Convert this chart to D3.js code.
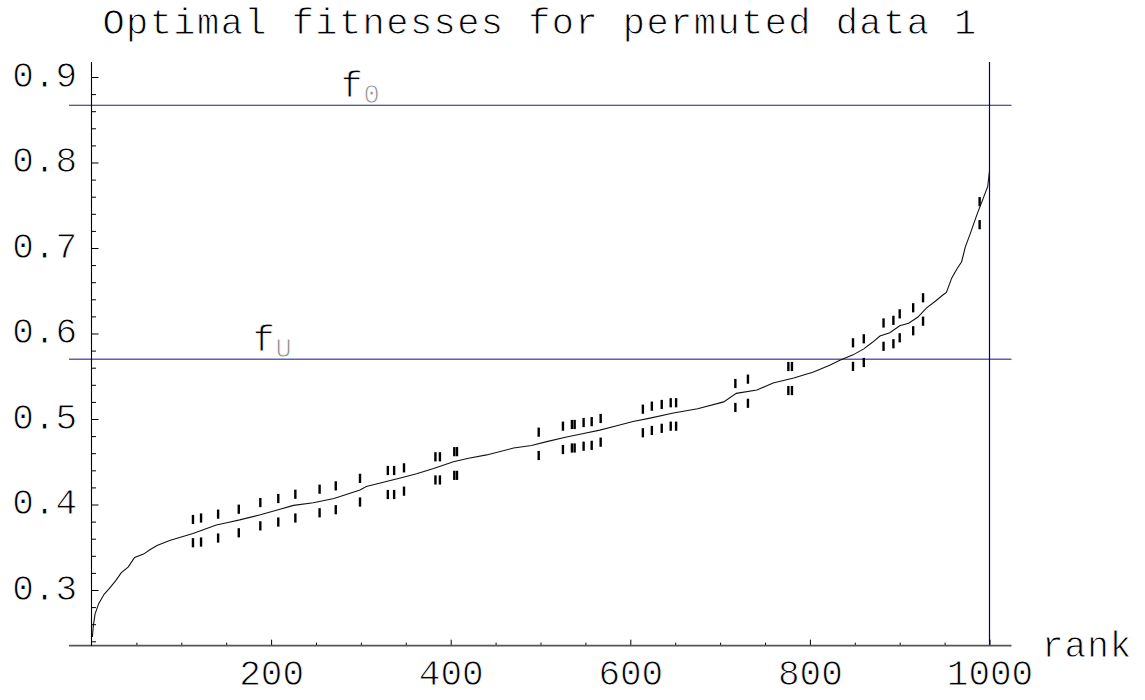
<!DOCTYPE html>
<html>
<head>
<meta charset="utf-8">
<script src="https://cdn.jsdelivr.net/npm/d3@7/dist/d3.min.js"></script>
<style>
  html, body { margin: 0; padding: 0; background: #fff; }
  svg { display: block; }
  svg text { stroke: #fff; stroke-width: 0.9px; paint-order: normal; }
</style>
</head>
<body>
<script>
// ---------- data ----------
const title = "Optimal fitnesses for permuted data 1";
const xLabel = "rank";

const curveRank = [1,2,4,8,14,20,27,33,41,48,58,65,73,87,100,113,126,139,152,165,188,205,225,247,270,299,306,325,344,362,381,403,420,440,470,490,507,529,548,566,585,603,622,648,675,704,718,741,759,782,804,822,834,848,860,870,878,889,900,910,920,930,940,948,952,958,964,969,973,979,986,993,998,1000];
const curveValue = [0.245,0.258,0.272,0.284,0.295,0.302,0.311,0.320,0.327,0.338,0.342,0.347,0.352,0.358,0.362,0.366,0.371,0.376,0.379,0.382,0.388,0.393,0.399,0.402,0.407,0.417,0.421,0.426,0.431,0.436,0.442,0.450,0.454,0.458,0.466,0.469,0.4735,0.479,0.483,0.487,0.492,0.497,0.501,0.507,0.512,0.520,0.530,0.534,0.542,0.548,0.555,0.563,0.569,0.575,0.582,0.590,0.597,0.601,0.609,0.612,0.619,0.630,0.638,0.645,0.648,0.665,0.676,0.684,0.701,0.718,0.739,0.758,0.772,0.790];

const barRank  = [113,122,141,164,188,208,227,254,272,299,330,337,348,383,388,404,407,498,525,535,538,548,557,567,614,624,635,645,651,717,731,776,780,848,860,882,893,900,915,926,989];
const barUpper = [0.3825,0.3842,0.3887,0.3945,0.4023,0.407,0.412,0.4179,0.4218,0.4306,0.4398,0.4398,0.4429,0.4558,0.4558,0.4618,0.4618,0.4846,0.4916,0.4936,0.4936,0.4959,0.4969,0.5006,0.5115,0.515,0.517,0.519,0.519,0.5415,0.5466,0.5614,0.5614,0.5891,0.5938,0.6123,0.6154,0.6230,0.6301,0.6418,0.7542];
const barLower = [0.3553,0.3561,0.3608,0.3669,0.375,0.3795,0.3842,0.3903,0.3939,0.4029,0.4117,0.4117,0.4156,0.4287,0.4287,0.4341,0.4341,0.4573,0.4643,0.4661,0.4661,0.4682,0.4692,0.4729,0.4839,0.4866,0.4891,0.4916,0.4916,0.5135,0.5184,0.5333,0.5333,0.5616,0.5661,0.585,0.588,0.595,0.6032,0.6144,0.7273];

const refLineName  = ["0", "U"];
const refLineValue = [0.867, 0.570];
const refLabelRank = [280, 182];
const rankLimit = 1000;

const xTickLabels = [200, 400, 600, 800, 1000];
const xMinorTicks = [50,100,150,250,300,350,450,500,550,650,700,750,850,900,950];
const yTickLabels = [0.3, 0.4, 0.5, 0.6, 0.7, 0.8, 0.9];
const yMinorTicks = [0.24,0.26,0.28,0.32,0.34,0.36,0.38,0.42,0.44,0.46,0.48,0.52,0.54,0.56,0.58,0.62,0.64,0.66,0.68,0.72,0.74,0.76,0.78,0.82,0.84,0.86,0.88];

// plot range
const xRange = [-25, 1024.5];
const yRange = [0.2349, 0.9175];

// ---------- layout ----------
const W = 1145, H = 700;
const FONT = "'Liberation Mono', 'Courier New', monospace";

const svg = d3.select("body").append("svg").attr("width", W).attr("height", H);

const x = d3.scaleLinear().domain([0, 1000]).range([91.5, 989.5]);
const y = d3.scaleLinear().domain([0.3, 0.9]).range([590, 77]);

// title
svg.append("text")
  .attr("x", 540).attr("y", 33.5)
  .attr("text-anchor", "middle")
  .attr("font-family", FONT).attr("font-size", 37)
  .attr("letter-spacing", 1.45)
  .attr("fill", "#000")
  .text(title);

// reference lines
const refColors = ["#1c1c84", "#6060b0"];
const refWidths = [1.1, 1.5];
refLineValue.forEach((v, i) => {
  svg.append("line")
    .attr("x1", x(xRange[0])).attr("x2", x(xRange[1]))
    .attr("y1", y(v)).attr("y2", y(v))
    .attr("stroke", refColors[i]).attr("stroke-width", refWidths[i]);
  const t = svg.append("text")
    .attr("x", x(refLabelRank[i]) - 2).attr("y", y(v) - 8)
    .attr("font-family", FONT).attr("font-size", 36).attr("fill", "#000");
  t.append("tspan").text("f");
  t.append("tspan").attr("dy", 6).attr("dx", 1)
    .attr("font-size", 27).attr("fill", "#8a8a8a").text(refLineName[i]);
});

// vertical limit line
svg.append("line")
  .attr("x1", x(rankLimit)).attr("x2", x(rankLimit))
  .attr("y1", y(yRange[1])).attr("y2", y(yRange[0]))
  .attr("stroke", "#00007f").attr("stroke-width", 1.2);

// curve
const pts = curveRank.map((r, i) => [r, curveValue[i]]);
svg.append("path")
  .datum(pts)
  .attr("d", d3.line().x(d => x(d[0])).y(d => y(d[1])))
  .attr("fill", "none").attr("stroke", "#111").attr("stroke-width", 1.1);

// bars (upper and lower segments)
const BAR_HALF = 4.6;
const bars = barRank.map((r, i) => ({ r, u: barUpper[i], l: barLower[i] }));
const bg = svg.append("g").attr("stroke", "#000").attr("stroke-width", 2.4);
bars.forEach(b => {
  [b.u, b.l].forEach(v => {
    bg.append("line")
      .attr("x1", x(b.r)).attr("x2", x(b.r))
      .attr("y1", y(v) - BAR_HALF).attr("y2", y(v) + BAR_HALF);
  });
});

// axes
const axisY0 = y(yRange[0]);
const xAxisG = svg.append("g").attr("transform", `translate(0,${axisY0})`);
xAxisG.call(d3.axisBottom(x).tickValues(xTickLabels).tickSizeInner(-6).tickSizeOuter(0)
  .tickPadding(14).tickFormat(d3.format("d")));
xAxisG.append("g").call(d3.axisBottom(x).tickValues(xMinorTicks).tickSizeInner(-3).tickSizeOuter(0).tickFormat(""));
xAxisG.selectAll(".domain").remove();
xAxisG.selectAll("line").attr("stroke", "#000");
xAxisG.selectAll("text").attr("font-family", FONT).attr("font-size", 36).attr("fill", "#000");

svg.append("line")
  .attr("x1", x(xRange[0])).attr("x2", x(xRange[1]))
  .attr("y1", axisY0).attr("y2", axisY0)
  .attr("stroke", "#555").attr("stroke-width", 1.6);

const yAxisG = svg.append("g").attr("transform", `translate(${x(0)},0)`);
yAxisG.call(d3.axisLeft(y).tickValues(yTickLabels).tickSizeInner(-7).tickSizeOuter(0)
  .tickPadding(14.5).tickFormat(d3.format(".1f")));
yAxisG.append("g").call(d3.axisLeft(y).tickValues(yMinorTicks).tickSizeInner(-4.5).tickSizeOuter(0).tickFormat(""));
yAxisG.selectAll(".domain").remove();
yAxisG.selectAll("line").attr("stroke", "#000");
yAxisG.selectAll("text").attr("font-family", FONT).attr("font-size", 36).attr("fill", "#000").attr("dy", "0.25em");

svg.append("line")
  .attr("x1", x(0)).attr("x2", x(0))
  .attr("y1", y(yRange[1])).attr("y2", axisY0)
  .attr("stroke", "#000").attr("stroke-width", 1.1);

// x label
svg.append("text")
  .attr("x", 1042).attr("y", 657)
  .attr("font-family", FONT).attr("font-size", 36).attr("letter-spacing", 1)
  .attr("fill", "#000")
  .text(xLabel);
</script>
</body>
</html>
